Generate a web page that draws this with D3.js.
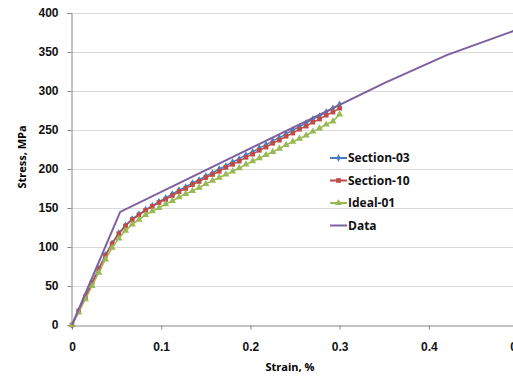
<!DOCTYPE html>
<html>
<head>
<meta charset="utf-8">
<script src="https://cdn.jsdelivr.net/npm/d3@7"></script>
<style>
  body { margin: 0; background: #fff; }
  svg { display: block; font-family: "Open Sans", "Liberation Sans", sans-serif; }
</style>
</head>
<body>
<div id="chart"></div>
<script>
// strain values (%) for the three model series
var strain = [0, 0.0075, 0.015, 0.0225, 0.03, 0.0375, 0.045, 0.0525, 0.06, 0.0675,
    0.075, 0.0825, 0.09, 0.0975, 0.105, 0.1125, 0.12, 0.1275, 0.135, 0.1425,
    0.15, 0.1575, 0.165, 0.1725, 0.18, 0.1875, 0.195, 0.2025, 0.21, 0.2175,
    0.225, 0.2325, 0.24, 0.2475, 0.255, 0.2625, 0.27, 0.2775, 0.285, 0.2925, 0.3];

var section03 = [0, 18, 36, 54, 72, 90, 105, 118, 128, 136,
    142, 148, 153, 158, 163, 168, 173, 177, 182, 186,
    191, 195, 200, 204, 209, 213, 218, 222, 227, 231,
    236, 240, 245, 250, 254, 259, 264, 268, 273, 278, 283];

var section10 = [0, 18, 36, 54, 72, 89, 104, 117, 127, 135,
    141, 147, 152, 157, 161, 166, 171, 175, 180, 184,
    189, 193, 197, 202, 206, 210, 215, 219, 224, 228,
    233, 237, 242, 246, 251, 255, 260, 264, 269, 273, 278];

var ideal01 = [0, 16, 33, 50, 67, 84, 99, 111, 121, 129,
    135, 141, 146, 150, 155, 159, 164, 168, 172, 176,
    181, 185, 189, 193, 197, 201, 206, 210, 214, 218,
    222, 226, 231, 235, 239, 243, 248, 252, 257, 261, 270];

// measured curve
var dataStrain = [0, 0.054, 0.35, 0.42, 0.5];
var dataStress = [0, 145, 310, 346, 379];

var xTicks = [0, 0.1, 0.2, 0.3, 0.4, 0.5];
var yTicks = [0, 50, 100, 150, 200, 250, 300, 350, 400];

var W = 513, H = 376;

var x = d3.scaleLinear().domain([0, 0.5]).range([72, 518]);
var y = d3.scaleLinear().domain([0, 400]).range([325, 13]);

var svg = d3.select("#chart").append("svg")
    .attr("width", W)
    .attr("height", H);

// gridlines
svg.append("g").selectAll("line")
    .data(yTicks.slice(1))
    .enter().append("line")
    .attr("x1", 72).attr("x2", W)
    .attr("y1", function(d) { return y(d) + 0.5; })
    .attr("y2", function(d) { return y(d) + 0.5; })
    .attr("stroke", "#d9d9d9");

// axes
var yAxis = svg.append("g")
    .attr("transform", "translate(71.5,0)")
    .call(d3.axisLeft(y).tickValues(yTicks).tickSize(4).tickPadding(9).tickFormat(d3.format("d")));
var xAxis = svg.append("g")
    .attr("transform", "translate(0," + (y(0) + 0.5) + ")")
    .call(d3.axisBottom(x).tickValues(xTicks).tickSize(4).tickPadding(13)
        .tickFormat(function(d) { return d === 0 ? "0" : d3.format(".1f")(d); }));

[yAxis, xAxis].forEach(function(a) {
    a.select(".domain").attr("stroke", "#868686");
    a.selectAll(".tick line").attr("stroke", "#868686");
    a.selectAll("text")
        .attr("fill", "#111")
        .style("font-size", "12px")
        .style("font-weight", "bold");
});

svg.append("text")
    .attr("x", 290).attr("y", 371)
    .attr("text-anchor", "middle")
    .style("font-size", "11px").style("font-weight", "bold")
    .text("Strain, %");

svg.append("text")
    .attr("transform", "translate(26,157) rotate(-90)")
    .attr("text-anchor", "middle")
    .style("font-size", "11px").style("font-weight", "bold")
    .text("Stress,  MPa");

var series = [
    { name: "Section-03", values: section03, color: "#4A7EBB", marker: d3.symbolDiamond, size: 16 },
    { name: "Section-10", values: section10, color: "#BE4B48", marker: d3.symbolSquare, size: 22 },
    { name: "Ideal-01", values: ideal01, color: "#98B954", marker: d3.symbolTriangle, size: 22 },
    { name: "Data", values: null, color: "#7D60A0", marker: null }
];

var line = d3.line()
    .x(function(d) { return x(d[0]); })
    .y(function(d) { return y(d[1]); });

series.forEach(function(s) {
    var pts = s.values ? strain.map(function(v, i) { return [v, s.values[i]]; })
        : dataStrain.map(function(v, i) { return [v, dataStress[i]]; });
    var g = svg.append("g");
    g.append("path")
        .attr("d", line(pts))
        .attr("fill", "none")
        .attr("stroke", s.color)
        .attr("stroke-width", s.marker ? 1.5 : 2);
    if (s.marker) {
        g.selectAll("path.m")
            .data(pts)
            .enter().append("path")
            .attr("class", "m")
            .attr("d", d3.symbol().type(s.marker).size(s.size))
            .attr("transform", function(d) { return "translate(" + x(d[0]) + "," + y(d[1]) + ")"; })
            .attr("fill", s.color);
    }
});

// legend
var legend = svg.append("g").attr("transform", "translate(330,158)");
var item = legend.selectAll("g")
    .data(series)
    .enter().append("g")
    .attr("transform", function(d, i) { return "translate(0," + (i * 22.5) + ")"; });
item.append("line")
    .attr("x1", 0).attr("x2", 17)
    .attr("stroke", function(d) { return d.color; })
    .attr("stroke-width", 2);
item.filter(function(d) { return d.marker; })
    .append("path")
    .attr("transform", "translate(8.5,0)")
    .attr("d", function(d) { return d3.symbol().type(d.marker).size(d.size)(); })
    .attr("fill", function(d) { return d.color; });
item.append("text")
    .attr("x", 18).attr("dy", "0.35em")
    .style("font-size", "12px").style("font-weight", "bold")
    .attr("fill", "#111")
    .text(function(d) { return d.name; });
</script>
</body>
</html>
